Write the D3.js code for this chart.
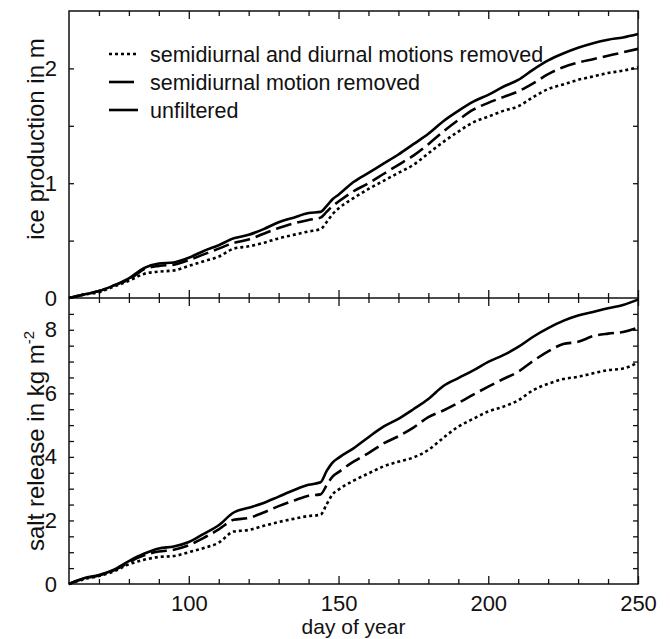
<!DOCTYPE html>
<html>
<head>
<meta charset="utf-8">
<script src="https://cdn.jsdelivr.net/npm/d3@7"></script>
<style>
  body { margin: 0; background: #fff; }
  text { font-family: "Liberation Sans", Arial, sans-serif; fill: #111; }
</style>
</head>
<body>
<div id="chart"></div>
<script>
// data (day of year vs. cumulative values)
var days = [60, 65, 70, 75, 80, 85, 90, 95, 100, 105, 110, 115, 120, 125, 130, 135, 140, 144, 146, 148,
            150, 155, 160, 165, 170, 175, 180, 185, 190, 195, 200, 205, 210, 215, 220, 225, 230, 235, 240, 245, 250];

// ice production in m
var iceUnfiltered = [0, 0.03, 0.06, 0.11, 0.17, 0.26, 0.30, 0.31, 0.35, 0.41, 0.46, 0.52, 0.55, 0.60, 0.66, 0.70, 0.74, 0.75, 0.80, 0.86,
                     0.90, 1.01, 1.09, 1.17, 1.25, 1.34, 1.43, 1.54, 1.63, 1.71, 1.77, 1.84, 1.90, 1.99, 2.07, 2.13, 2.18, 2.22, 2.25, 2.27, 2.30];
var iceSemi = [0, 0.03, 0.06, 0.11, 0.16, 0.25, 0.28, 0.29, 0.33, 0.38, 0.43, 0.48, 0.51, 0.56, 0.61, 0.65, 0.68, 0.70, 0.75, 0.80,
               0.84, 0.93, 1.00, 1.08, 1.16, 1.24, 1.34, 1.45, 1.55, 1.64, 1.70, 1.75, 1.80, 1.87, 1.95, 2.01, 2.05, 2.08, 2.11, 2.14, 2.17];
var iceSemiDiurnal = [0, 0.03, 0.05, 0.10, 0.15, 0.21, 0.23, 0.24, 0.28, 0.32, 0.36, 0.43, 0.45, 0.48, 0.52, 0.55, 0.58, 0.60, 0.66, 0.73,
                      0.78, 0.87, 0.95, 1.02, 1.09, 1.16, 1.26, 1.36, 1.45, 1.53, 1.58, 1.63, 1.67, 1.75, 1.82, 1.86, 1.90, 1.93, 1.96, 1.98, 2.01];

// salt release in kg m^-2
var saltUnfiltered = [0, 0.18, 0.28, 0.45, 0.72, 0.95, 1.12, 1.18, 1.32, 1.58, 1.85, 2.25, 2.40, 2.55, 2.75, 2.95, 3.12, 3.20, 3.55, 3.82,
                      3.97, 4.27, 4.62, 4.95, 5.20, 5.50, 5.82, 6.23, 6.48, 6.72, 6.99, 7.20, 7.46, 7.78, 8.05, 8.28, 8.45, 8.56, 8.68, 8.78, 8.95];
var saltSemi = [0, 0.17, 0.27, 0.43, 0.68, 0.90, 1.02, 1.08, 1.22, 1.45, 1.72, 2.02, 2.08, 2.25, 2.45, 2.62, 2.78, 2.82, 3.10, 3.38,
                3.52, 3.85, 4.12, 4.42, 4.65, 4.92, 5.25, 5.46, 5.70, 5.96, 6.21, 6.45, 6.68, 7.02, 7.32, 7.55, 7.62, 7.80, 7.88, 7.93, 8.07];
var saltSemiDiurnal = [0, 0.15, 0.25, 0.40, 0.62, 0.76, 0.85, 0.88, 1.00, 1.13, 1.30, 1.65, 1.70, 1.83, 1.95, 2.05, 2.14, 2.18, 2.50, 2.82,
                       2.97, 3.25, 3.48, 3.70, 3.85, 3.98, 4.22, 4.60, 4.95, 5.20, 5.43, 5.58, 5.78, 6.10, 6.30, 6.45, 6.52, 6.63, 6.73, 6.78, 6.97];

var legendLabels = ["semidiurnal and diurnal motions removed", "semidiurnal motion removed", "unfiltered"];
var dashes = ["3,3", "16,6", null];

var xMinor = [70, 80, 90, 110, 120, 130, 140, 160, 170, 180, 190, 210, 220, 230, 240];
var xMajor = [100, 150, 200, 250];
var iceTicks = [0, 1, 2];
var iceMinor = [0.5, 1, 1.5, 2];
var saltTicks = [0, 2, 4, 6, 8];
var saltMinor = d3.range(0.5, 9, 0.5);

var w = 670, h = 639;
var pLeft = 69, pRight = 638, pTop = 11, pMid = 298, pBottom = 584;

var svg = d3.select("#chart").append("svg")
    .attr("width", w)
    .attr("height", h);

var x = d3.scaleLinear().domain([60, 250]).range([pLeft, pRight]);
var yIce = d3.scaleLinear().domain([0, 2.5]).range([pMid, pTop]);
var ySalt = d3.scaleLinear().domain([0, 9]).range([pBottom, pMid]);

function tidy(g) {
  g.select(".domain").remove();
  g.selectAll("line").attr("stroke", "#111").attr("stroke-width", 1.3);
}

// x ticks on the three horizontal edges
function xTicks(axisFn, y, size, values) {
  svg.append("g")
      .attr("transform", "translate(0," + y + ")")
      .call(axisFn(x).tickValues(values).tickSize(size).tickFormat(""))
      .call(tidy);
}
xTicks(d3.axisBottom, pTop, 5, xMinor);
xTicks(d3.axisBottom, pTop, 8, xMajor);
xTicks(d3.axisTop, pMid, 5, xMinor);
xTicks(d3.axisTop, pMid, 8, xMajor);
xTicks(d3.axisBottom, pMid, 5, xMinor);
xTicks(d3.axisBottom, pMid, 8, xMajor);
xTicks(d3.axisTop, pBottom, 5, xMinor);
xTicks(d3.axisTop, pBottom, 8, xMajor);

// x labels
svg.append("g")
    .attr("transform", "translate(0," + pBottom + ")")
    .call(d3.axisBottom(x).tickValues(xMajor).tickSize(0).tickPadding(11))
    .call(tidy)
    .selectAll("text").attr("font-size", 22).attr("fill", "#111");

// y ticks, both sides, pointing inward
function yTicks(scale, minor, labels) {
  svg.append("g").attr("transform", "translate(" + pLeft + ",0)")
      .call(d3.axisRight(scale).tickValues(minor).tickSize(5).tickFormat(""))
      .call(tidy);
  svg.append("g").attr("transform", "translate(" + pRight + ",0)")
      .call(d3.axisLeft(scale).tickValues(minor).tickSize(5).tickFormat(""))
      .call(tidy);
  svg.append("g").attr("transform", "translate(" + pLeft + ",0)")
      .call(d3.axisLeft(scale).tickValues(labels).tickSize(0).tickPadding(12).tickFormat(d3.format("d")))
      .call(tidy)
      .selectAll("text").attr("font-size", 22).attr("fill", "#111");
}
yTicks(yIce, iceMinor, iceTicks);
yTicks(ySalt, saltMinor, saltTicks);

// frame and divider
svg.append("rect")
    .attr("x", pLeft).attr("y", pTop)
    .attr("width", pRight - pLeft).attr("height", pBottom - pTop)
    .attr("fill", "none").attr("stroke", "#111").attr("stroke-width", 1.5);
svg.append("line")
    .attr("x1", pLeft).attr("x2", pRight).attr("y1", pMid).attr("y2", pMid)
    .attr("stroke", "#111").attr("stroke-width", 1.5);

// curves
function drawSeries(yScale, series) {
  var line = d3.line()
      .x(function (d, i) { return x(days[i]); })
      .y(function (d) { return yScale(d); })
      .curve(d3.curveMonotoneX);
  series.forEach(function (vals, i) {
    svg.append("path")
        .datum(vals)
        .attr("fill", "none")
        .attr("stroke", "#000")
        .attr("stroke-width", 2.6)
        .attr("stroke-dasharray", dashes[i])
        .attr("d", line);
  });
}
drawSeries(yIce, [iceSemiDiurnal, iceSemi, iceUnfiltered]);
drawSeries(ySalt, [saltSemiDiurnal, saltSemi, saltUnfiltered]);

// legend
var legend = svg.append("g");
legendLabels.forEach(function (label, i) {
  var yy = 54 + i * 28;
  legend.append("line")
      .attr("x1", 109).attr("x2", 138)
      .attr("y1", yy).attr("y2", yy)
      .attr("stroke", "#000").attr("stroke-width", 2.6)
      .attr("stroke-dasharray", dashes[i] === "16,6" ? "25,5,2,20" : dashes[i]);
  legend.append("text")
      .attr("x", 150).attr("y", yy + 8)
      .attr("font-size", 21.5)
      .text(label);
});

// axis titles
svg.append("text")
    .attr("x", (pLeft + pRight) / 2).attr("y", 634)
    .attr("text-anchor", "middle")
    .attr("font-size", 21)
    .text("day of year");

svg.append("text")
    .attr("transform", "translate(44,139) rotate(-90)")
    .attr("text-anchor", "middle")
    .attr("font-size", 24)
    .text("ice production in m");

var saltTitle = svg.append("text")
    .attr("transform", "translate(44,441) rotate(-90)")
    .attr("text-anchor", "middle")
    .attr("font-size", 24);
saltTitle.append("tspan").text("salt release in kg m");
saltTitle.append("tspan").attr("dy", -10).attr("font-size", 15).text("-2");
</script>
</body>
</html>
